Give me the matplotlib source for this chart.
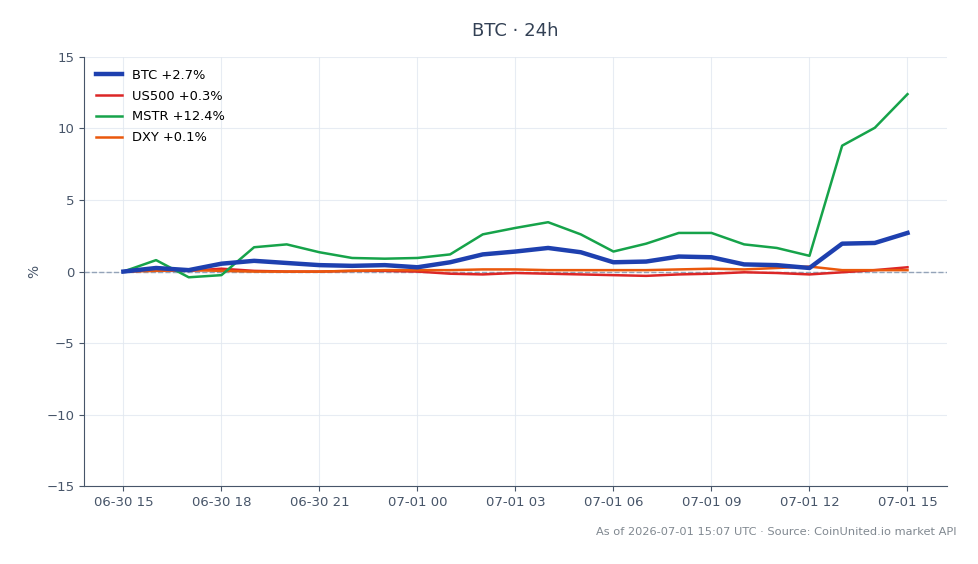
import matplotlib
matplotlib.use("Agg")
import matplotlib.pyplot as plt

# hourly points, 06-30 15:00 -> 07-01 15:00
hours = list(range(25))
tick_pos = [0, 3, 6, 9, 12, 15, 18, 21, 24]
tick_labels = ["06-30 15", "06-30 18", "06-30 21", "07-01 00", "07-01 03",
               "07-01 06", "07-01 09", "07-01 12", "07-01 15"]

btc = [0.0, 0.25, 0.1, 0.55, 0.75, 0.6, 0.45, 0.4, 0.45, 0.3, 0.65, 1.2, 1.4,
       1.65, 1.35, 0.65, 0.7, 1.05, 1.0, 0.5, 0.45, 0.25, 1.95, 2.0, 2.7]
us500 = [0.0, 0.1, 0.05, 0.2, 0.05, 0.0, 0.0, 0.05, 0.05, 0.0, -0.15, -0.2, -0.1,
         -0.15, -0.2, -0.25, -0.3, -0.2, -0.15, -0.05, -0.1, -0.2, -0.05, 0.1, 0.3]
mstr = [0.0, 0.8, -0.4, -0.25, 1.7, 1.9, 1.35, 0.95, 0.9, 0.95, 1.2, 2.6, 3.05,
        3.45, 2.6, 1.4, 1.95, 2.7, 2.7, 1.9, 1.65, 1.1, 8.8, 10.05, 12.4]
dxy = [0.0, 0.05, 0.1, 0.05, 0.0, 0.0, 0.0, 0.05, 0.1, 0.1, 0.1, 0.15, 0.15,
       0.1, 0.1, 0.1, 0.1, 0.15, 0.2, 0.15, 0.25, 0.35, 0.1, 0.1, 0.1]

fig = plt.figure(figsize=(9.79, 5.64), dpi=100)
ax = fig.add_axes([0.086, 0.138, 0.881, 0.761])

ax.axhline(0, color="#94a3b8", lw=1, ls="--", zorder=1)
ax.plot(hours, btc, color="#1e40af", lw=3.2, label="BTC +2.7%", zorder=5)
ax.plot(hours, us500, color="#dc2626", lw=1.8, label="US500 +0.3%", zorder=3)
ax.plot(hours, mstr, color="#16a34a", lw=1.8, label="MSTR +12.4%", zorder=4)
ax.plot(hours, dxy, color="#ea580c", lw=1.8, label="DXY +0.1%", zorder=3)

ax.set_ylim(-15, 15)
ax.set_yticks([-15, -10, -5, 0, 5, 10, 15])
ax.set_yticklabels(["\u221215", "\u221210", "\u22125", "0", "5", "10", "15"])
ax.set_xticks(tick_pos)
ax.set_xticklabels(tick_labels)
ax.set_ylabel("%", color="#475569", fontsize=10)

ax.grid(True, color="#e2e8f0", lw=0.8, alpha=0.8)
ax.set_axisbelow(True)
for s in ["top", "right"]:
    ax.spines[s].set_visible(False)
for s in ["left", "bottom"]:
    ax.spines[s].set_color("#475569")
ax.tick_params(colors="#475569", labelsize=9.5)

ax.legend(loc="upper left", frameon=False, fontsize=9.4, labelspacing=0.6)
ax.set_title("BTC \u00b7 24h", color="#334155", fontsize=13, pad=15)

fig.text(0.977, 0.048, "As of 2026-07-01 15:07 UTC \u00b7 Source: CoinUnited.io market API",
         ha="right", va="bottom", fontsize=8.2, color="#808890")

fig.savefig("out.png", dpi=100)
